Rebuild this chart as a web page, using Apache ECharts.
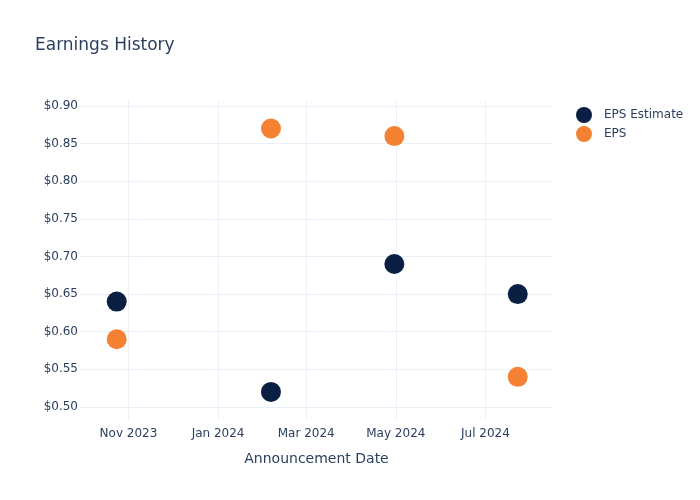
<!DOCTYPE html>
<html>
<head>
<meta charset="utf-8">
<script src="https://cdn.jsdelivr.net/npm/echarts@6/dist/echarts.min.js"></script>
<style>html,body{margin:0;padding:0;background:#fff}#c{width:700px;height:500px}</style>
</head>
<body>
<div id="c"></div>
<script>
const dates = ['2023-10-24', '2024-02-06', '2024-04-30', '2024-07-23'];
const epsEstimate = [0.64, 0.52, 0.69, 0.65];
const eps = [0.59, 0.87, 0.86, 0.54];
const yTicks = [0.50, 0.55, 0.60, 0.65, 0.70, 0.75, 0.80, 0.85, 0.90];
const xTicks = ['2023-11-01', '2024-01-01', '2024-03-01', '2024-05-01', '2024-07-01'];
const xRange = ['2023-09-29', '2024-08-16'];
const yRange = [0.484, 0.9066];

const months = ['Jan','Feb','Mar','Apr','May','Jun','Jul','Aug','Sep','Oct','Nov','Dec'];
const t = s => Date.parse(s + 'T00:00:00Z');
const font = "'DejaVu Sans', sans-serif";
const txt = '#2a3f5f';
const grid = '#ebf0f8';

const chart = echarts.init(document.getElementById('c'), null, {renderer: 'canvas'});
chart.setOption({
  animation: false,
  backgroundColor: '#fff',
  title: {
    text: 'Earnings History', left: 30, top: 32,
    textStyle: {fontFamily: font, fontSize: 17, fontWeight: 'normal', color: txt}
  },
  legend: {
    orient: 'vertical', left: 571, top: 102, itemGap: 3,
    itemWidth: 16, itemHeight: 16, icon: 'circle',
    textStyle: {fontFamily: font, fontSize: 12, color: txt, padding: [0, 0, 0, 7]},
    data: ['EPS Estimate', 'EPS']
  },
  grid: {left: 80, right: 147, top: 101, bottom: 81, containLabel: false},
  xAxis: {
    type: 'value', min: t(xRange[0]), max: t(xRange[1]),
    name: 'Announcement Date', nameLocation: 'middle', nameGap: 33,
    nameTextStyle: {fontFamily: font, fontSize: 14, color: txt},
    axisLine: {show: false},
    axisTick: {show: false, customValues: xTicks.map(t)},
    axisLabel: {
      customValues: xTicks.map(t), margin: 9, showMinLabel: true, showMaxLabel: true,
      fontFamily: font, fontSize: 12, color: txt,
      formatter: v => { const d = new Date(v); return months[d.getUTCMonth()] + ' ' + d.getUTCFullYear(); }
    },
    splitLine: {show: true, lineStyle: {color: grid, width: 1}}
  },
  yAxis: {
    type: 'value', min: yRange[0], max: yRange[1],
    axisLine: {show: false},
    axisTick: {show: false, customValues: yTicks},
    axisLabel: {
      customValues: yTicks, margin: 2,
      fontFamily: font, fontSize: 12, color: txt,
      formatter: v => '$' + v.toFixed(2)
    },
    splitLine: {show: true, lineStyle: {color: grid, width: 1}}
  },
  series: [
    {
      name: 'EPS Estimate', type: 'scatter', symbolSize: 20,
      itemStyle: {color: '#0b1f42', opacity: 1},
      data: dates.map((d, i) => [t(d), epsEstimate[i]])
    },
    {
      name: 'EPS', type: 'scatter', symbolSize: 20,
      itemStyle: {color: '#f58232', opacity: 1},
      data: dates.map((d, i) => [t(d), eps[i]])
    }
  ]
});
</script>
</body>
</html>
